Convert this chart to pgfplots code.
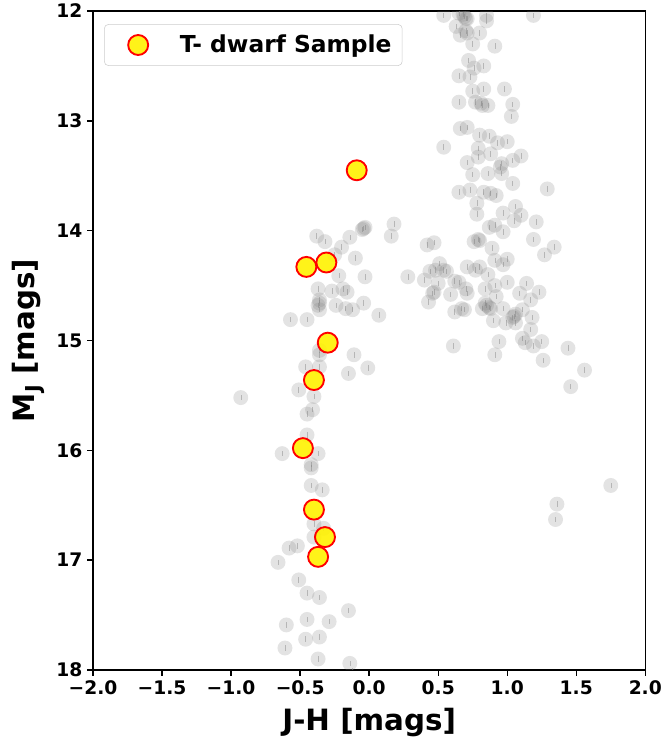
\documentclass[border=0pt]{standalone}
\usepackage{pgfplots}
\pgfplotsset{compat=1.18}
\usepackage{pgfplotstable}
\usepackage{fontspec}
\setmainfont{DejaVu Sans}

\pgfplotsset{
  tdwarf legend/.style={
    legend image code/.code={
      \path[draw=none, fill=none] (0cm,-0.2cm) rectangle (1.71cm,0.2cm);
      \draw[##1] plot coordinates {(0.68cm,0cm)};
    },
  },
}

% field population (J-H, M_J)
\pgfplotstableread{
x y
-0.04 13.98
-0.03 13.97
-0.05 13.99
0.18 13.94
0.16 14.05
-0.14 14.06
-0.38 14.05
-0.32 14.10
-0.20 14.15
0.42 14.13
0.47 14.11
-0.10 14.25
-0.25 14.22
0.28 14.42
0.40 14.45
0.44 14.37
0.48 14.36
0.46 14.57
0.43 14.65
-0.03 14.42
-0.22 14.41
-0.37 14.53
-0.27 14.55
-0.19 14.53
-0.16 14.56
-0.36 14.63
-0.37 14.68
-0.36 14.66
-0.24 14.68
-0.17 14.71
-0.12 14.72
-0.04 14.66
0.07 14.77
-0.36 14.72
-0.57 14.81
-0.45 14.81
-0.36 15.09
-0.36 15.13
-0.11 15.13
-0.01 15.25
-0.15 15.30
-0.46 15.24
-0.36 15.24
-0.51 15.45
-0.40 15.51
-0.41 15.63
-0.45 15.67
-0.93 15.52
-0.45 15.86
-0.63 16.03
-0.37 16.03
-0.42 16.13
-0.42 16.16
-0.42 16.32
-0.34 16.36
-0.40 16.67
-0.33 16.71
-0.40 16.79
-0.52 16.87
-0.58 16.89
-0.66 17.02
-0.51 17.18
-0.45 17.30
-0.36 17.34
-0.15 17.46
-0.60 17.59
-0.45 17.54
-0.29 17.56
-0.46 17.72
-0.36 17.70
-0.61 17.80
-0.37 17.90
-0.14 17.94
-0.12 18.01
0.54 12.04
0.65 12.02
0.69 12.05
0.70 12.07
0.68 12.03
0.71 12.07
0.85 12.04
0.85 12.09
1.19 12.04
0.63 12.14
0.71 12.20
0.70 12.18
0.66 12.22
0.80 12.20
0.75 12.30
0.91 12.32
0.72 12.45
0.76 12.52
0.83 12.50
0.65 12.59
0.73 12.60
0.75 12.73
0.83 12.71
0.98 12.71
0.65 12.83
0.77 12.83
0.81 12.84
0.82 12.86
0.86 12.86
1.04 12.85
1.03 12.96
0.66 13.07
0.71 13.06
0.80 13.13
0.87 13.14
0.93 13.20
1.00 13.19
0.54 13.24
0.79 13.25
0.79 13.33
0.88 13.30
0.71 13.38
0.96 13.39
0.95 13.42
1.04 13.36
1.10 13.32
0.75 13.49
0.86 13.48
0.96 13.48
1.04 13.57
1.29 13.62
0.65 13.65
0.73 13.63
0.83 13.65
0.88 13.66
0.92 13.68
0.78 13.75
0.78 13.85
1.06 13.78
0.97 13.84
1.10 13.86
1.05 13.91
1.21 13.92
0.91 13.95
0.87 13.97
0.97 14.01
1.19 14.08
1.34 14.15
1.27 14.22
0.80 14.09
0.79 14.08
0.76 14.10
0.89 14.16
0.91 14.27
1.00 14.26
0.97 14.31
0.80 14.33
0.71 14.33
0.77 14.36
0.86 14.40
0.51 14.30
0.54 14.36
0.56 14.37
0.50 14.48
0.62 14.46
0.65 14.47
0.70 14.53
0.71 14.57
0.47 14.56
0.59 14.58
0.62 14.74
0.69 14.72
0.67 14.71
0.84 14.53
0.91 14.50
1.00 14.47
1.14 14.48
1.09 14.57
1.23 14.56
1.17 14.63
0.92 14.60
0.84 14.66
0.85 14.68
0.87 14.70
0.88 14.71
0.82 14.71
0.97 14.71
0.90 14.82
0.99 14.84
1.05 14.78
1.06 14.76
1.04 14.79
1.06 14.84
1.11 14.72
1.18 14.79
1.17 14.90
1.11 14.98
1.13 15.02
1.19 15.05
1.25 15.01
0.94 15.01
0.91 15.13
0.61 15.05
1.26 15.18
1.44 15.07
1.56 15.27
1.46 15.42
1.75 16.32
1.36 16.49
1.35 16.63
}\fieldstars

% T dwarf sample
\pgfplotstableread{
x y
-0.09 13.45
-0.455 14.33
-0.31 14.29
-0.30 15.02
-0.40 15.36
-0.48 15.98
-0.40 16.54
-0.32 16.79
-0.37 16.97
}\tdwarfs

\begin{document}
\begin{tikzpicture}
% page frame: margins around the 414pt x 494pt axis box
\path[use as bounding box] (-69.75pt,-54pt) rectangle (427.5pt,502.25pt);
\begin{axis}[
    at={(0,0)}, anchor=south west,
    width=414pt, height=494pt,
    scale only axis,
    xmin=-2, xmax=2,
    ymin=12, ymax=18,
    y dir=reverse,
    xtick={-2,-1.5,-1,-0.5,0,0.5,1,1.5,2},
    xticklabels={−2.0,−1.5,−1.0,−0.5,0.0,0.5,1.0,1.5,2.0},
    ytick={12,13,14,15,16,17,18},
    yticklabels={12,13,14,15,16,17,18},
    tick align=outside,
    tick pos=left,
    major tick length=4.5pt,
    every tick/.style={black, line width=1pt},
    axis line style={line width=1pt},
    ticklabel style={font=\fontsize{14}{16}\selectfont\bfseries},
    xlabel={J-H [mags]},
    ylabel={M\textsubscript{J} [mags]},
    label style={font=\fontsize{22}{26}\selectfont\bfseries},
    xlabel style={yshift=-3pt},
    ylabel style={yshift=2pt},
    clip marker paths=true,
    legend style={
        at={(0.02,0.98)}, anchor=north west,
        draw=black!20, rounded corners=3pt,
        font=\fontsize{17.5}{20}\selectfont\bfseries,
        inner xsep=6pt, inner ysep=6pt,
    },
    legend cell align=left,
]
\addplot[only marks, mark=*, mark size=5.6pt, color=gray,
    mark options={draw opacity=0, fill=gray, fill opacity=0.22},
    error bars/.cd, y dir=both, y fixed=0.025,
    error bar style={draw=black!45, line width=0.4pt, draw opacity=0.5},
    error mark=none,
    ] table[x=x, y=y] {\fieldstars};
\addplot[only marks, mark=*, mark size=7.5pt,
    mark options={draw=red, fill=yellow, line width=1.4pt, fill opacity=0.9},
    tdwarf legend,
    ] table[x=x, y=y] {\tdwarfs};
\legend{,T- dwarf Sample}
\end{axis}
\end{tikzpicture}
\end{document}
